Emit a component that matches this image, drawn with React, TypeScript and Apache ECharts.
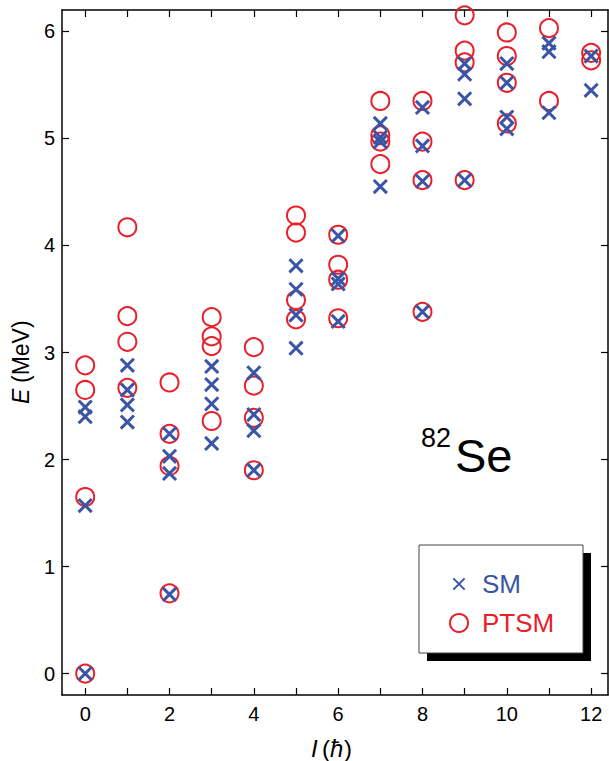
import React, { useEffect, useRef } from "react";
import * as echarts from "echarts";

const spins = [0, 1, 2, 3, 4, 5, 6, 7, 8, 9, 10, 11, 12];
const xTickValues = [0, 1, 2, 3, 4, 5, 6, 7, 8, 9, 10, 11, 12];
const xLabelValues = [0, 2, 4, 6, 8, 10, 12];
const yTickValues = [0, 1, 2, 3, 4, 5, 6];

// Energies (MeV) per spin I, index = spin
const smLevels: number[][] = [
  [0, 1.57, 2.4, 2.49],
  [2.35, 2.51, 2.65, 2.88],
  [0.74, 1.87, 2.03, 2.24],
  [2.15, 2.52, 2.7, 2.87],
  [1.9, 2.27, 2.42, 2.81],
  [3.04, 3.35, 3.59, 3.81],
  [3.29, 3.64, 3.69, 4.09],
  [4.55, 4.97, 5.01, 5.14],
  [3.38, 4.6, 4.93, 5.29],
  [4.61, 5.37, 5.6, 5.7],
  [5.09, 5.2, 5.52, 5.7],
  [5.24, 5.81, 5.89],
  [5.45, 5.77],
];

const ptsmLevels: number[][] = [
  [0, 1.65, 2.65, 2.88],
  [2.67, 3.1, 3.34, 4.17],
  [0.75, 1.94, 2.24, 2.72],
  [2.36, 3.06, 3.15, 3.33],
  [1.9, 2.39, 2.69, 3.05],
  [3.31, 3.49, 4.12, 4.28],
  [3.32, 3.68, 3.82, 4.1],
  [4.76, 4.97, 5.03, 5.35],
  [3.38, 4.61, 4.97, 5.35],
  [4.61, 5.71, 5.82, 6.15],
  [5.14, 5.52, 5.77, 5.99],
  [5.35, 6.03],
  [5.73, 5.8],
];

const BLUE = "#3a55a5";
const RED = "#e8202a";
const FONT = "Liberation Sans";
// cross with invisible padding points so the visible cross is 10/16 of the symbol box
const CROSS = "path://M-3,-3M0,0L10,10M10,0L0,10M13,13";

function toPoints(levels: number[][]): number[][] {
  const pts: number[][] = [];
  spins.forEach((s, i) => {
    (levels[i] || []).forEach((e) => pts.push([s, e]));
  });
  return pts;
}

function txt(text: string, x: number, y: number, size: number, italic = false, align = "left") {
  return {
    type: "text",
    x,
    y,
    style: {
      text,
      fontSize: size,
      fontFamily: FONT,
      fontStyle: italic ? "italic" : "normal",
      fill: "#000",
      align,
      verticalAlign: "middle",
    },
  };
}

export default function App() {
  const ref = useRef<HTMLDivElement>(null);
  useEffect(() => {
    if (!ref.current) return;
    const chart = echarts.init(ref.current, null, { renderer: "svg" });
    const axisLine = { show: true, onZero: false, lineStyle: { color: "#000", width: 1.5 } };
    const tickStyle = { color: "#000", width: 1.2 };
    chart.setOption({
      animation: false,
      backgroundColor: "#fff",
      grid: { left: 62, top: 10, right: 1, bottom: 66, containLabel: false },
      xAxis: [
        {
          type: "value",
          min: -0.55,
          max: 12.4,
          position: "bottom",
          splitLine: { show: false },
          axisLine,
          axisTick: { show: true, inside: true, length: 7, lineStyle: tickStyle, customValues: xTickValues },
          axisLabel: {
            customValues: xLabelValues,
            fontSize: 20,
            fontFamily: FONT,
            color: "#000",
            margin: 9,
          },
        },
        {
          type: "value",
          min: -0.55,
          max: 12.4,
          position: "top",
          splitLine: { show: false },
          axisLine,
          axisTick: { show: true, inside: true, length: 7, lineStyle: tickStyle, customValues: xTickValues },
          axisLabel: { show: false },
        },
      ],
      yAxis: [
        {
          type: "value",
          min: -0.2,
          max: 6.2,
          position: "left",
          splitLine: { show: false },
          axisLine,
          axisTick: { show: true, inside: true, length: 7, lineStyle: tickStyle, customValues: yTickValues },
          axisLabel: {
            customValues: yTickValues,
            fontSize: 20,
            fontFamily: FONT,
            color: "#000",
            margin: 7,
          },
        },
        {
          type: "value",
          min: -0.2,
          max: 6.2,
          position: "right",
          splitLine: { show: false },
          axisLine,
          axisTick: { show: true, inside: true, length: 7, lineStyle: tickStyle, customValues: yTickValues },
          axisLabel: { show: false },
        },
      ],
      legend: {
        orient: "vertical",
        left: 444,
        top: 566,
        z: 20,
        itemWidth: 18,
        itemHeight: 18,
        itemGap: 13,
        textStyle: { fontSize: 26, fontFamily: FONT, padding: [0, 0, 0, 9] },
        data: [
          { name: "SM", icon: CROSS, textStyle: { color: BLUE } },
          { name: "PTSM", icon: "circle", textStyle: { color: RED } },
        ],
      },
      graphic: [
        // x-axis title: I (ħ)
        txt("I", 311, 748, 24, true),
        txt("(", 322, 748, 24),
        txt("ħ", 330, 748, 24, true),
        txt(")", 344, 748, 24),
        // y-axis title: E (MeV), rotated
        {
          type: "group",
          x: 21,
          y: 361,
          rotation: Math.PI / 2,
          children: [txt("E", -43, 0, 23, true), txt("(MeV)", -22, 0, 23)],
        },
        {
          type: "rect",
          z: 5,
          shape: { x: 427, y: 553, width: 164, height: 108 },
          style: { fill: "#000" },
        },
        {
          type: "rect",
          z: 6,
          shape: { x: 419, y: 545, width: 164, height: 108 },
          style: { fill: "#fff", stroke: "#444", lineWidth: 1 },
        },
        {
          type: "text",
          z: 6,
          left: 421,
          top: 424,
          style: { text: "82", fontSize: 27, fontFamily: FONT, fill: "#000" },
        },
        {
          type: "text",
          z: 6,
          left: 455,
          top: 432,
          style: { text: "Se", fontSize: 47, fontFamily: FONT, fill: "#000" },
        },
      ],
      series: [
        {
          name: "PTSM",
          type: "scatter",
          z: 3,
          symbol: "circle",
          symbolSize: 18,
          itemStyle: { color: "rgba(0,0,0,0)", borderColor: RED, borderWidth: 2, opacity: 1 },
          data: toPoints(ptsmLevels),
        },
        {
          name: "SM",
          type: "scatter",
          z: 4,
          symbol: CROSS,
          symbolSize: 21,
          itemStyle: { color: BLUE, borderColor: BLUE, borderWidth: 3, opacity: 1 },
          data: toPoints(smLevels),
        },
      ],
    });
    return () => chart.dispose();
  }, []);
  return (
    <div
      ref={ref}
      style={{ position: "fixed", left: 0, top: 0, width: 609, height: 761, background: "#fff" }}
    />
  );
}
